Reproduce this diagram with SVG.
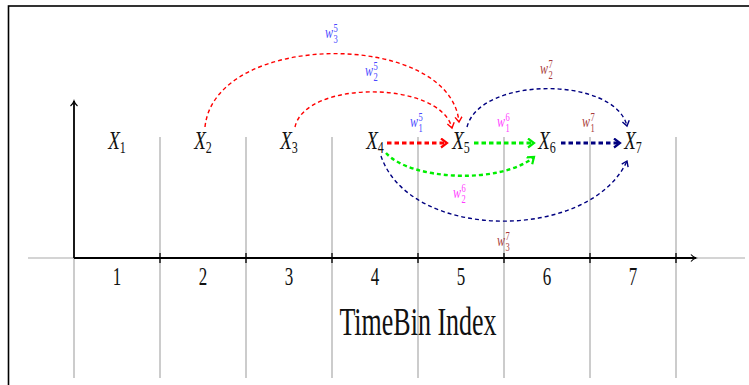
<svg xmlns="http://www.w3.org/2000/svg" width="749" height="385" viewBox="0 0 749 385">
<defs>
<style>
text{font-family:"Liberation Serif","DejaVu Serif",serif;fill:#111}
.it{font-style:italic}
.xl{font-size:19px}
.sub{font-size:12px;font-style:normal}
.num{font-size:17px}
.w{font-size:12px}
.ws{font-size:8.5px;font-style:normal}
.blue{fill:#4848ff}
.mag{fill:#ff3cff}
.brn{fill:#a83a3a}
.grid{stroke:#aaaaaa;stroke-width:1.2;fill:none}
.ax{stroke:#000;stroke-width:1.8;fill:none}
.thin{fill:none;stroke-width:1.4;stroke-dasharray:4 3}
.thick{fill:none;stroke-width:2.8;stroke-dasharray:4.5 3}
.red{stroke:#ff0000}
.grn{stroke:#00ee00}
.nav{stroke:#000080}
</style>
<marker id="ah-k" markerWidth="10" markerHeight="10" refX="6" refY="4" orient="auto" markerUnits="userSpaceOnUse"><path d="M1,0.5 Q3,3 6,4 Q3,5 1,7.5" fill="none" stroke="#000" stroke-width="1.2"/></marker>
<marker id="ah-r" markerWidth="10" markerHeight="10" refX="6" refY="4" orient="auto" markerUnits="userSpaceOnUse"><path d="M1,0.5 L6,4 L1,7.5" fill="none" stroke="#ff0000" stroke-width="1.4"/></marker>
<marker id="ah-g" markerWidth="10" markerHeight="10" refX="6" refY="4" orient="auto" markerUnits="userSpaceOnUse"><path d="M1,0.5 L6,4 L1,7.5" fill="none" stroke="#00ee00" stroke-width="1.4"/></marker>
<marker id="ah-n" markerWidth="10" markerHeight="10" refX="6" refY="4" orient="auto" markerUnits="userSpaceOnUse"><path d="M1,0.5 L6,4 L1,7.5" fill="none" stroke="#000080" stroke-width="1.4"/></marker>
<marker id="ahT-r" markerWidth="12" markerHeight="12" refX="7" refY="5" orient="auto" markerUnits="userSpaceOnUse"><path d="M1,0.5 L7,5 L1,9.5" fill="none" stroke="#ff0000" stroke-width="2.2"/></marker>
<marker id="ahT-g" markerWidth="12" markerHeight="12" refX="7" refY="5" orient="auto" markerUnits="userSpaceOnUse"><path d="M1,0.5 L7,5 L1,9.5" fill="none" stroke="#00ee00" stroke-width="2.2"/></marker>
<marker id="ahT-n" markerWidth="12" markerHeight="12" refX="7" refY="5" orient="auto" markerUnits="userSpaceOnUse"><path d="M1,0.5 L7,5 L1,9.5" fill="none" stroke="#000080" stroke-width="2.2"/></marker>
</defs>
<rect x="0" y="0" width="749" height="385" fill="#fff"/>
<rect x="8.5" y="6" width="800" height="420" fill="none" stroke="#000" stroke-width="1.6"/>
<g id="grid">
<line class="grid" x1="28" y1="258" x2="745" y2="258"/>
<line class="grid" x1="74" y1="258" x2="74" y2="378"/>
<line class="grid" x1="160" y1="137" x2="160" y2="378"/>
<line class="grid" x1="246" y1="137" x2="246" y2="378"/>
<line class="grid" x1="332" y1="137" x2="332" y2="378"/>
<line class="grid" x1="418" y1="137" x2="418" y2="378"/>
<line class="grid" x1="504" y1="137" x2="504" y2="378"/>
<line class="grid" x1="590" y1="137" x2="590" y2="378"/>
<line class="grid" x1="676" y1="137" x2="676" y2="378"/>
</g>
<g id="axes">
<line class="ax" x1="74" y1="258" x2="74" y2="101" marker-end="url(#ah-k)"/>
<line class="ax" x1="74" y1="258" x2="696" y2="258" marker-end="url(#ah-k)"/>
<path d="M160,253V263M246,253V263M332,253V263M418,253V263M504,253V263M590,253V263M676,253V263" stroke="#000" stroke-width="1.3"/>
</g>
<g id="ticks-labels">
<text class="num" text-anchor="middle" transform="translate(117,285) scale(1,1.45)">1</text>
<text class="num" text-anchor="middle" transform="translate(203,285) scale(1,1.45)">2</text>
<text class="num" text-anchor="middle" transform="translate(289,285) scale(1,1.45)">3</text>
<text class="num" text-anchor="middle" transform="translate(375,285) scale(1,1.45)">4</text>
<text class="num" text-anchor="middle" transform="translate(461,285) scale(1,1.45)">5</text>
<text class="num" text-anchor="middle" transform="translate(547,285) scale(1,1.45)">6</text>
<text class="num" text-anchor="middle" transform="translate(633,285) scale(1,1.45)">7</text>
<text text-anchor="middle" font-size="26" transform="translate(418,335) scale(1,1.55)">TimeBin Index</text>
</g>
<g id="connectors">
<path class="thin red" d="M205,127 C215,30 450,30 459,122" marker-end="url(#ah-r)"/>
<path class="thin red" d="M295,127 C305,80 440,80 452,128" marker-end="url(#ah-r)"/>
<line class="thick red" x1="387" y1="143" x2="447" y2="143" marker-end="url(#ahT-r)"/>
<line class="thick grn" x1="474" y1="143" x2="534" y2="143" marker-end="url(#ahT-g)"/>
<path class="thin grn" style="stroke-width:2.4" d="M386,153 C410,180 500,185 534,157" marker-end="url(#ahT-g)"/>
<line class="thick nav" x1="561" y1="143" x2="620" y2="143" marker-end="url(#ahT-n)"/>
<path class="thin nav" d="M467,127 C480,76 615,76 627,126" marker-end="url(#ah-n)"/>
<path class="thin nav" d="M381,156 C410,242 590,242 627,161" marker-end="url(#ah-n)"/>
</g>
<g id="X1"><text class="xl" text-anchor="middle" transform="translate(117,149) scale(1,1.38)"><tspan class="it">X</tspan><tspan class="sub" dy="3">1</tspan></text></g>
<g id="X2"><text class="xl" text-anchor="middle" transform="translate(203,149) scale(1,1.38)"><tspan class="it">X</tspan><tspan class="sub" dy="3">2</tspan></text></g>
<g id="X3"><text class="xl" text-anchor="middle" transform="translate(289,149) scale(1,1.38)"><tspan class="it">X</tspan><tspan class="sub" dy="3">3</tspan></text></g>
<g id="X4"><text class="xl" text-anchor="middle" transform="translate(375,149) scale(1,1.38)"><tspan class="it">X</tspan><tspan class="sub" dy="3">4</tspan></text></g>
<g id="X5"><text class="xl" text-anchor="middle" transform="translate(461,149) scale(1,1.38)"><tspan class="it">X</tspan><tspan class="sub" dy="3">5</tspan></text></g>
<g id="X6"><text class="xl" text-anchor="middle" transform="translate(547,149) scale(1,1.38)"><tspan class="it">X</tspan><tspan class="sub" dy="3">6</tspan></text></g>
<g id="X7"><text class="xl" text-anchor="middle" transform="translate(633,149) scale(1,1.38)"><tspan class="it">X</tspan><tspan class="sub" dy="3">7</tspan></text></g>
<g id="weights">
<text class="w blue" transform="translate(325,38) scale(1,1.4)"><tspan class="it">w</tspan><tspan class="ws" x="8.5" y="-4.5">5</tspan><tspan class="ws" x="8.5" y="3.6">3</tspan></text>
<text class="w blue" transform="translate(365,76) scale(1,1.4)"><tspan class="it">w</tspan><tspan class="ws" x="8.5" y="-4.5">5</tspan><tspan class="ws" x="8.5" y="3.6">2</tspan></text>
<text class="w blue" transform="translate(410,127) scale(1,1.4)"><tspan class="it">w</tspan><tspan class="ws" x="8.5" y="-4.5">5</tspan><tspan class="ws" x="8.5" y="3.6">1</tspan></text>
<text class="w mag" transform="translate(497,127) scale(1,1.4)"><tspan class="it">w</tspan><tspan class="ws" x="8.5" y="-4.5">6</tspan><tspan class="ws" x="8.5" y="3.6">1</tspan></text>
<text class="w mag" transform="translate(453,198) scale(1,1.4)"><tspan class="it">w</tspan><tspan class="ws" x="8.5" y="-4.5">6</tspan><tspan class="ws" x="8.5" y="3.6">2</tspan></text>
<text class="w brn" transform="translate(582,127) scale(1,1.4)"><tspan class="it">w</tspan><tspan class="ws" x="8.5" y="-4.5">7</tspan><tspan class="ws" x="8.5" y="3.6">1</tspan></text>
<text class="w brn" transform="translate(540,74) scale(1,1.4)"><tspan class="it">w</tspan><tspan class="ws" x="8.5" y="-4.5">7</tspan><tspan class="ws" x="8.5" y="3.6">2</tspan></text>
<text class="w brn" transform="translate(497,246) scale(1,1.4)"><tspan class="it">w</tspan><tspan class="ws" x="8.5" y="-4.5">7</tspan><tspan class="ws" x="8.5" y="3.6">3</tspan></text>
</g>
</svg>
